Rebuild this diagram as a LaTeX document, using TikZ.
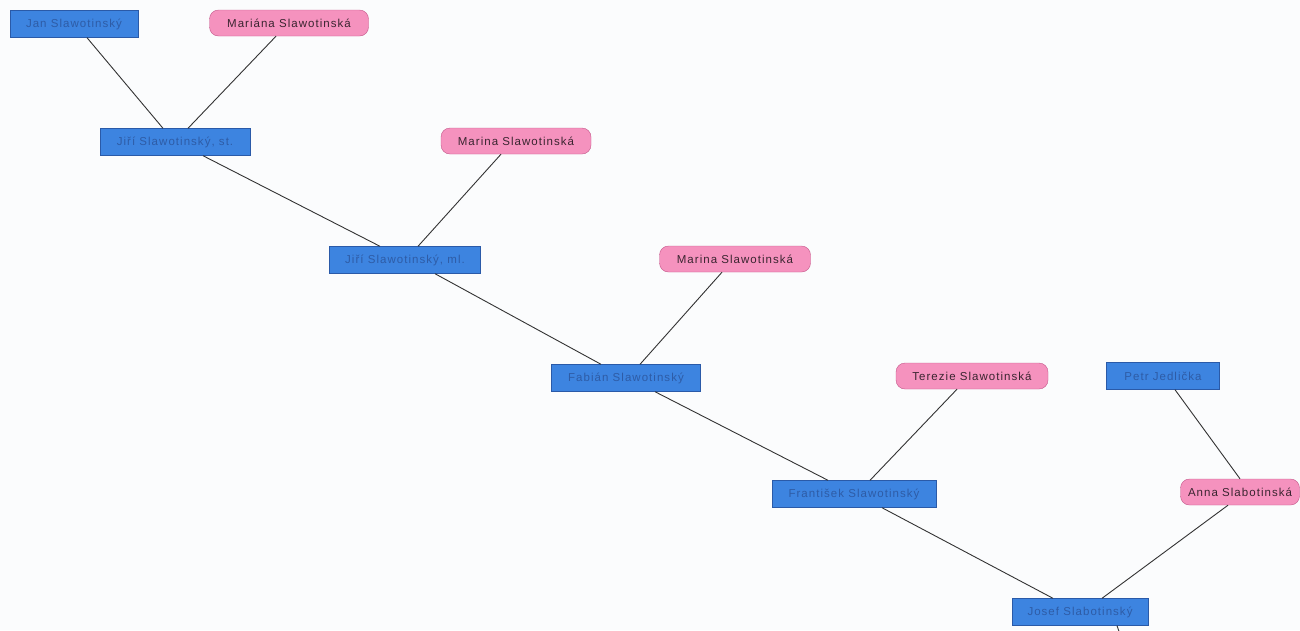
\documentclass[tikz,border=0pt]{standalone}
\usepackage{fontspec}
\setmainfont{Liberation Sans}
\newfontfamily\treefont[LetterSpace=9]{Liberation Sans}
\definecolor{malefill}{HTML}{3D84E0}
\definecolor{maledraw}{HTML}{2A5AA8}
\definecolor{maletext}{HTML}{2E5CA6}
\definecolor{femfill}{HTML}{F592BE}
\definecolor{femdraw}{HTML}{C4568A}
\definecolor{femtext}{HTML}{3A2530}
\definecolor{paper}{HTML}{FBFCFD}

\begin{document}
\begin{tikzpicture}[x=1pt, y=-1pt,
    male/.style={draw=maledraw, fill=malefill, text=maletext, minimum height=27pt, inner xsep=0pt, font=\treefont\fontsize{11.5}{13}\selectfont},
    female/.style={draw=femdraw, fill=femfill, text=femtext, rounded corners=9pt, minimum height=26pt, inner xsep=0pt, font=\treefont\fontsize{11.5}{13}\selectfont},
    link/.style={draw=black!80, line width=0.9pt}]
                \fill [paper] (0,0) rectangle (1300,630);
                \useasboundingbox (0,0) rectangle (1300,630);
                \clip (0,0) rectangle (1300,630);
                \node [male, minimum width=128pt] (jan) at (74,24) {Jan Slawotinský};
                \node [female, minimum width=159pt] (mariana) at (289,23) {Mariána Slawotinská};
                \node [male, minimum width=150pt] (jirist) at (175,142) {Jiří Slawotinský, st.};
                \node [female, minimum width=150pt] (marina) at (516,141) {Marina Slawotinská};
                \node [male, minimum width=151pt] (jiriml) at (405,260) {Jiří Slawotinský, ml.};
                \node [female, minimum width=151pt] (marinb) at (735,259) {Marina Slawotinská};
                \node [male, minimum width=149pt] (fabian) at (626,378) {Fabián Slawotinský};
                \node [female, minimum width=152pt] (terezie) at (972,376) {Terezie Slawotinská};
                \node [male, minimum width=113pt] (petr) at (1163,376) {Petr Jedlička};
                \node [male, minimum width=164pt] (frantisek) at (854,494) {František Slawotinský};
                \node [female, minimum width=119pt] (anna) at (1240,492) {Anna Slabotinská};
                \node [male, minimum width=136pt] (josef) at (1080,612) {Josef Slabotinský};
                \coordinate (next) at (1122,640);
                \draw [link] ([xshift=13pt]jan.south) -- ([xshift=-12pt]jirist.north);
                \draw [link] ([xshift=-13pt]mariana.south) -- ([xshift=13pt]jirist.north);
                \draw [link] ([xshift=28pt]jirist.south) -- ([xshift=-25pt]jiriml.north);
                \draw [link] ([xshift=-15pt]marina.south) -- ([xshift=13pt]jiriml.north);
                \draw [link] ([xshift=30pt]jiriml.south) -- ([xshift=-25pt]fabian.north);
                \draw [link] ([xshift=-13pt]marinb.south) -- ([xshift=14pt]fabian.north);
                \draw [link] ([xshift=29pt]fabian.south) -- ([xshift=-26pt]frantisek.north);
                \draw [link] ([xshift=-15pt]terezie.south) -- ([xshift=16pt]frantisek.north);
                \draw [link] ([xshift=12pt]petr.south) -- (anna.north);
                \draw [link] ([xshift=28pt]frantisek.south) -- ([xshift=-27pt]josef.north);
                \draw [link] ([xshift=-12pt]anna.south) -- ([xshift=22pt]josef.north);
                \draw [link] ([xshift=37pt]josef.south) -- (next);
            \end{tikzpicture}
\end{document}
